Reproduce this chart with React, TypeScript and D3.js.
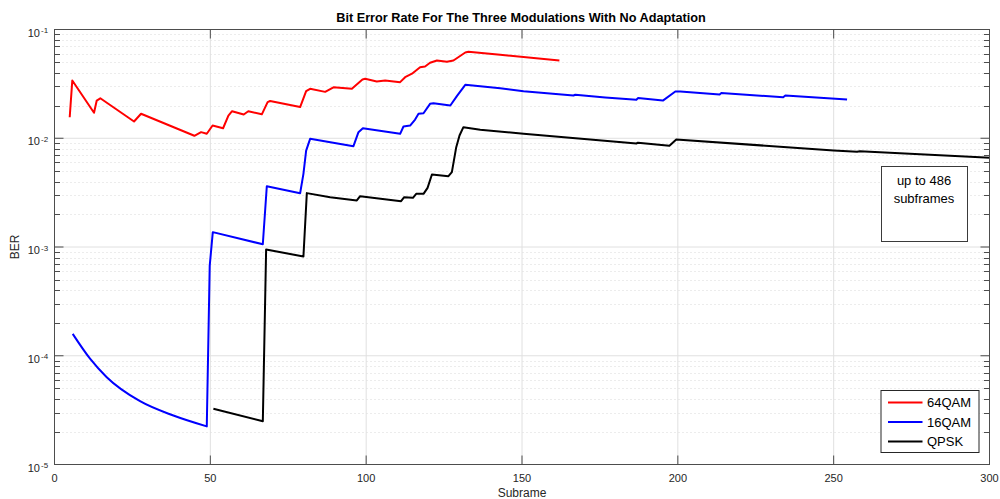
import React from "react";
import * as d3 from "d3";

const xTicks = [0, 50, 100, 150, 200, 250, 300];
const yDecades = [-5, -4, -3, -2, -1];
const seriesNames = ["64QAM", "16QAM", "QPSK"];
const seriesColors = ["#ff0000", "#0000ff", "#000000"];
const titleText = "Bit Error Rate For The Three Modulations With No Adaptation";
const xLabel = "Subrame";
const yLabel = "BER";
const noteLines = ["up to 486", "subframes"];

const qam64: [number, number][] = [
  [4.88, 0.0156], [5.71, 0.034], [12.68, 0.01714], [13.55, 0.0222], [14.7, 0.0233],
  [25.52, 0.01426], [27.77, 0.0168], [44.88, 0.01054], [47.03, 0.01138], [48.86, 0.01099],
  [50.72, 0.01309], [54.09, 0.01236], [55.8, 0.01618], [56.98, 0.01774], [60.71, 0.01653],
  [62.18, 0.0177], [66.52, 0.0166], [68.38, 0.0215], [69.18, 0.022], [78.81, 0.01937],
  [80.74, 0.0271], [82.02, 0.0285], [86.84, 0.0267], [89.5, 0.0294], [95.41, 0.0285],
  [98.81, 0.0347], [99.68, 0.0352], [103.4, 0.0333], [106.1, 0.034], [110.9, 0.0328],
  [112.5, 0.0364], [114.7, 0.0392], [117.3, 0.045], [118.9, 0.0457], [120.5, 0.0494],
  [122.7, 0.0519], [125.9, 0.0505], [128.0, 0.0519], [131.8, 0.0614], [132.8, 0.0624],
  [143.0, 0.0585], [162.0, 0.0519],
];

// smooth decaying start of the 16QAM curve
const qam16Start: [number, number][] = [
  [5.84, 1.59e-4], [11.4, 9.4e-5], [16.76, 6.35e-5], [27.45, 3.82e-5], [38.14, 2.82e-5], [48.86, 2.24e-5],
];

const qam16Rest: [number, number][] = [
  [48.86, 2.24e-5],
  [49.8, 6.7e-4], [50.79, 1.37e-3], [66.84, 1.06e-3], [68.12, 3.62e-3], [78.81, 3.12e-3],
  [79.87, 4.71e-3], [80.74, 7.7e-3], [82.02, 9.88e-3], [95.92, 8.45e-3], [97.53, 0.01137],
  [98.94, 0.01237], [110.9, 0.01098], [111.97, 0.01282], [114.1, 0.01309], [115.7, 0.01486],
  [116.8, 0.01678], [118.4, 0.01699], [120.5, 0.02073], [121.6, 0.021], [127.0, 0.02],
  [129.1, 0.0244], [131.8, 0.031], [143.0, 0.0288], [150.5, 0.0271], [166.5, 0.0247],
  [167.1, 0.0251], [176.7, 0.0237], [186.7, 0.0226], [187.2, 0.0234], [195.2, 0.0222],
  [199.2, 0.0269], [200.8, 0.0269], [213.4, 0.0252], [213.9, 0.026], [233.8, 0.0238],
  [234.5, 0.0247], [254.3, 0.0227],
];

const qpsk: [number, number][] = [
  [50.98, 3.25e-5], [66.84, 2.5e-5], [67.9, 9.48e-4], [79.87, 8.18e-4], [80.96, 3.13e-3],
  [88.44, 2.87e-3], [97.0, 2.68e-3], [98.07, 2.93e-3], [111.2, 2.64e-3], [112.2, 2.87e-3],
  [115.0, 2.83e-3], [116.05, 3.08e-3], [118.4, 3.08e-3], [119.7, 3.5e-3], [121.1, 4.64e-3],
  [126.4, 4.48e-3], [127.5, 4.88e-3], [128.9, 8.28e-3], [129.95, 0.0106], [131.2, 0.01264],
  [136.6, 0.012], [150.5, 0.011], [186.7, 8.95e-3], [187.2, 9.1e-3], [197.3, 8.53e-3],
  [199.5, 9.75e-3], [250.0, 7.71e-3], [257.5, 7.5e-3], [258.4, 7.6e-3], [300.3, 6.6e-3],
];

export default function App() {
  const W = 1000, H = 499;
  const L = 54.5, R = 989.5, T = 29.5, B = 464.5;
  const x = d3.scaleLinear().domain([0, 300]).range([L, R]);
  const y = d3.scaleLog().domain([1e-5, 1e-1]).range([B, T]);
  const line = d3.line<[number, number]>().x((d) => x(d[0])).y((d) => y(d[1]));
  const smooth = d3.line<[number, number]>().x((d) => x(d[0])).y((d) => y(d[1])).curve(d3.curveMonotoneX);

  const minor: number[] = [];
  yDecades.slice(0, -1).forEach((d) => {
    for (let k = 2; k <= 9; k++) minor.push(k * Math.pow(10, d));
  });
  const font = "Arial, 'Liberation Sans', Helvetica, sans-serif";
  const axisColor = "#4d4d4d";

  const legX = 881, legY = 390.5, legW = 98, legH = 62;
  const rowY = [402.5, 422, 441.5];

  const paths = [
    { d: line(qam64) || "", c: seriesColors[0] },
    { d: (smooth(qam16Start) || "") + (line(qam16Rest) || "").replace(/^M/, "L"), c: seriesColors[1] },
    { d: line(qpsk) || "", c: seriesColors[2] },
  ];

  return (
    <svg width={W} height={H} style={{ position: "absolute", left: 0, top: 0, background: "#fff" }} fontFamily={font}>
      <defs>
        <clipPath id="plotClip">
          <rect x={L} y={T} width={R - L} height={B - T} />
        </clipPath>
      </defs>
      <rect x={0} y={0} width={W} height={H} fill="#fff" />
      {minor.map((v, i) => (
        <line key={"mg" + i} x1={L} x2={R} y1={Math.round(y(v)) + 0.5} y2={Math.round(y(v)) + 0.5}
          stroke="#d9d9d9" strokeWidth={1} strokeDasharray="1,3" />
      ))}
      {yDecades.map((d) => (
        <line key={"yg" + d} x1={L} x2={R} y1={y(Math.pow(10, d))} y2={y(Math.pow(10, d))} stroke="#e0e0e0" strokeWidth={1} />
      ))}
      {xTicks.map((t) => (
        <line key={"xg" + t} x1={x(t)} x2={x(t)} y1={T} y2={B} stroke="#e0e0e0" strokeWidth={1} />
      ))}
      <g clipPath="url(#plotClip)">
        {paths.map((p, i) => (
          <path key={"s" + i} d={p.d} fill="none" stroke={p.c} strokeWidth={2} strokeLinejoin="round" />
        ))}
      </g>
      <rect x={L} y={T} width={R - L} height={B - T} fill="none" stroke={axisColor} strokeWidth={1} />
      {xTicks.map((t) => (
        <g key={"xt" + t}>
          <line x1={x(t)} x2={x(t)} y1={B} y2={B - 9} stroke={axisColor} />
          <line x1={x(t)} x2={x(t)} y1={T} y2={T + 9} stroke={axisColor} />
          <text x={x(t)} y={482} fontSize={11} textAnchor="middle" fill="#262626">{t}</text>
        </g>
      ))}
      {yDecades.map((d) => (
        <g key={"yt" + d}>
          <line x1={L} x2={L + 9} y1={y(Math.pow(10, d))} y2={y(Math.pow(10, d))} stroke={axisColor} />
          <line x1={R} x2={R - 9} y1={y(Math.pow(10, d))} y2={y(Math.pow(10, d))} stroke={axisColor} />
          <text x={40} y={y(Math.pow(10, d)) + 7} fontSize={11} textAnchor="end" fill="#262626">10</text>
          <text x={41} y={y(Math.pow(10, d)) + 3.5} fontSize={8} textAnchor="start" fill="#262626">{d}</text>
        </g>
      ))}
      {minor.map((v, i) => (
        <g key={"mt" + i}>
          <line x1={L} x2={L + 5.5} y1={Math.round(y(v)) + 0.5} y2={Math.round(y(v)) + 0.5} stroke={axisColor} />
          <line x1={R} x2={R - 5.5} y1={Math.round(y(v)) + 0.5} y2={Math.round(y(v)) + 0.5} stroke={axisColor} />
        </g>
      ))}
      <text x={521} y={22} fontSize={12.7} fontWeight="bold" textAnchor="middle" fill="#000">{titleText}</text>
      <text x={522} y={497} fontSize={12} textAnchor="middle" fill="#262626">{xLabel}</text>
      <text transform="translate(19,247) rotate(-90)" fontSize={12} textAnchor="middle" fill="#262626">{yLabel}</text>
      <rect x={881.5} y={166.5} width={86} height={75} fill="#fff" stroke="#3a3a3a" strokeWidth={1} />
      {noteLines.map((s, i) => (
        <text key={"n" + i} x={924} y={185 + i * 17.5} fontSize={13} textAnchor="middle" fill="#000">{s}</text>
      ))}
      <rect x={legX} y={legY} width={legW} height={legH} fill="#fff" stroke="#262626" strokeWidth={1} />
      {seriesNames.map((n, i) => (
        <g key={"lg" + i}>
          <line x1={888} x2={922.5} y1={rowY[i]} y2={rowY[i]} stroke={seriesColors[i]} strokeWidth={2} />
          <text x={927} y={rowY[i] + 4.5} fontSize={13} fill="#000">{n}</text>
        </g>
      ))}
    </svg>
  );
}
